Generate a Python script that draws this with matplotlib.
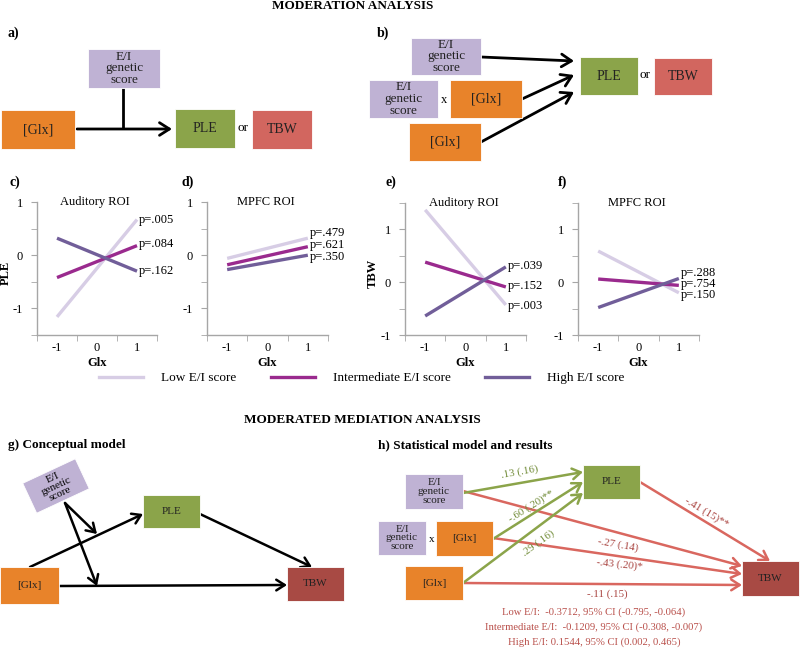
import matplotlib
matplotlib.use('Agg')
import matplotlib.pyplot as plt
from matplotlib.patches import Rectangle, Polygon
from matplotlib.lines import Line2D
import numpy as np

plt.rcParams['font.family'] = ['Liberation Serif', 'DejaVu Serif']

# ---------------- data ----------------
glx_ticks = [-1, 0, 1]
glx_ends = [-1, 1]
series_names = ['Low E/I score', 'Intermediate E/I score', 'High E/I score']
series_colors = ['#d7cde5', '#9a2a8e', '#715e99']

# panel c: Auditory ROI, PLE  (values at Glx = -1 and Glx = 1)
c_low = [-1.16, 0.67]
c_int = [-0.42, 0.18]
c_high = [0.32, -0.30]
c_p = ['p=.005', 'p=.084', 'p=.162']
# panel d: MPFC ROI, PLE
d_low = [-0.06, 0.32]
d_int = [-0.18, 0.16]
d_high = [-0.27, 0.00]
d_p = ['p=.479', 'p=.621', 'p=.350']
# panel e: Auditory ROI, TBW
e_low = [1.37, -0.43]
e_int = [0.38, -0.09]
e_high = [-0.64, 0.29]
e_p = ['p=.003', 'p=.152', 'p=.039']
# panel f: MPFC ROI, TBW
f_low = [0.59, -0.20]
f_int = [0.06, -0.06]
f_high = [-0.48, 0.07]
f_p = ['p=.150', 'p=.754', 'p=.288']

# path coefficients (panel h)
h_green_labels = ['.13 (.16)', '-.60 (.20)**', '.29 (.16)']
h_red_labels = ['-.41 (15)**', '-.27 (.14)', '-.43 (.20)*', '-.11 (.15)']
h_results = ['Low E/I:  -0.3712, 95% CI (-0.795, -0.064)',
             'Intermediate E/I:  -0.1209, 95% CI (-0.308, -0.007)',
             'High E/I: 0.1544, 95% CI (0.002, 0.465)']

# ---------------- figure ----------------
W, H = 800, 648
fig = plt.figure(figsize=(8, 6.48), dpi=100)
ov = fig.add_axes([0, 0, 1, 1])
ov.set_xlim(0, W)
ov.set_ylim(H, 0)
ov.axis('off')

PURPLE = '#bfb2d4'
ORANGE = '#e8832a'
GREEN = '#8ba44a'
RED = '#d2665f'
DRED = '#a84a44'
LGREEN = '#8ba44a'
LRED = '#d9675f'


def box(x0, y0, x1, y1, color, text, fs=10, tc='#222222'):
    ov.add_patch(Rectangle((x0, y0), x1 - x0, y1 - y0, facecolor=color,
                           edgecolor='white', lw=0.6, zorder=2))
    if text:
        ov.text((x0 + x1) / 2, (y0 + y1) / 2, text, ha='center', va='center',
                fontsize=fs, color=tc, zorder=3, linespacing=0.95)


def arrow(p0, p1, color='black', lw=2.0, head=True, ms=13):
    if head:
        ov.annotate('', xy=p1, xytext=p0,
                    arrowprops=dict(arrowstyle='->,head_length=0.55,head_width=0.35',
                                    color=color, lw=lw, shrinkA=0, shrinkB=0,
                                    mutation_scale=ms), zorder=1)
    else:
        ov.plot([p0[0], p1[0]], [p0[1], p1[1]], color=color, lw=lw, zorder=1,
                solid_capstyle='butt')


# titles
ov.text(353, 6, 'MODERATION ANALYSIS', ha='center', va='center', fontsize=9.5,
        fontweight='bold')
ov.text(362, 420, 'MODERATED MEDIATION ANALYSIS', ha='center', va='center',
        fontsize=9.5, fontweight='bold')

# ---- panel a ----
ov.text(8, 33, 'a)', fontsize=10, fontweight='bold', va='center')
box(88, 49, 160, 88, PURPLE, 'E/I\ngenetic\nscore', fs=9.5)
box(1, 110, 75, 149, ORANGE, '[Glx]', fs=10)
box(175, 109, 235, 148, GREEN, 'PLE', fs=10)
ov.text(243, 128, 'or', fontsize=9.5, ha='center', va='center')
box(252, 110, 312, 149, RED, 'TBW', fs=10)
arrow((77, 129), (172, 129))
arrow((123, 88), (123, 129), head=False)

# ---- panel b ----
ov.text(377, 33, 'b)', fontsize=10, fontweight='bold', va='center')
box(411, 38, 481, 75, PURPLE, 'E/I\ngenetic\nscore', fs=9.5)
box(369, 80, 438, 118, PURPLE, 'E/I\ngenetic\nscore', fs=9.5)
ov.text(444, 100, 'x', fontsize=9, ha='center', va='center')
box(450, 80, 522, 118, ORANGE, '[Glx]', fs=10)
box(409, 123, 481, 161, ORANGE, '[Glx]', fs=10)
box(580, 57, 638, 95, GREEN, 'PLE', fs=10)
ov.text(645, 75, 'or', fontsize=9.5, ha='center', va='center')
box(654, 58, 712, 95, RED, 'TBW', fs=10)
arrow((481, 57), (574, 61))
arrow((522, 99), (574, 75))
arrow((481, 142), (574, 92))

# ---- line plots c-f ----
panels = [
    dict(rect=(37, 157, 202, 335), ylim=(-1.5, 1), title='Auditory ROI',
         vals=[c_low, c_int, c_high], p=c_p, py=[0.67, 0.21, -0.29],
         label='c)', lx=10, ylabel='PLE', ylx=-0.21),
    dict(rect=(207, 328, 202, 335), ylim=(-1.5, 1), title='MPFC ROI',
         vals=[d_low, d_int, d_high], p=d_p, py=[0.42, 0.19, -0.04],
         label='d)', lx=181, ylabel=None, ylx=0),
    dict(rect=(405, 526, 203, 335), ylim=(-1, 1.5), title='Auditory ROI',
         vals=[e_low, e_int, e_high], p=e_p, py=[-0.45, -0.07, 0.31],
         label='e)', lx=385, ylabel='TBW', ylx=-0.22),
    dict(rect=(578, 699, 203, 335), ylim=(-1, 1.5), title='MPFC ROI',
         vals=[f_low, f_int, f_high], p=f_p, py=[-0.24, -0.04, 0.17],
         label='f)', lx=558, ylabel=None, ylx=0),
]
GRAY = '#a6a6a6'
for pn in panels:
    x0, x1, y0, y1 = pn['rect']
    ax = fig.add_axes([x0 / W, (H - y1) / H, (x1 - x0) / W, (y1 - y0) / H])
    ax.patch.set_alpha(0)
    ax.set_xlim(-1.5, 1.5)
    ax.set_ylim(*pn['ylim'])
    for s in ['top', 'right']:
        ax.spines[s].set_visible(False)
    for s in ['left', 'bottom']:
        ax.spines[s].set_color(GRAY)
        ax.spines[s].set_linewidth(1.0)
    ax.set_xticks(glx_ticks)
    ax.set_xticklabels([str(v) for v in glx_ticks])
    ax.set_xticks([-1.5, -0.5, 0.5, 1.5], minor=True)
    ax.tick_params(axis='x', which='major', length=0, labelsize=9, pad=5)
    ax.tick_params(axis='x', which='minor', length=4, color=GRAY, direction='out')
    ax.set_yticks([-1, 0, 1])
    ax.set_yticklabels(['-1', '0', '1'])
    lo, hi = pn['ylim']
    ax.set_yticks([v for v in [-1.5, -0.5, 0.5, 1.5] if lo <= v <= hi], minor=True)
    ax.tick_params(axis='y', which='both', length=4, color=GRAY, direction='out',
                   labelsize=9, pad=6)
    for vals, col in zip(pn['vals'], series_colors):
        ax.plot(glx_ends, vals, color=col, lw=2.4, solid_capstyle='butt')
    for txt, yy in zip(pn['p'], pn['py']):
        ax.text(1.04, yy, txt, ha='left', va='center', fontsize=9, clip_on=False)
    ax.text(-0.05, 1.0 if lo < -1 else 1.5, pn['title'], ha='center', va='center',
            fontsize=9, transform=ax.transData)
    ax.set_xlabel('Glx', fontsize=9, fontweight='bold')
    ax.xaxis.set_label_coords(0.5, -0.165)
    if pn['ylabel']:
        ax.set_ylabel(pn['ylabel'], fontsize=9, fontweight='bold')
        ax.yaxis.set_label_coords(pn['ylx'], 0.47)
    ov.text(pn['lx'], 182, pn['label'], fontsize=10, fontweight='bold', va='center')

handles = [Line2D([], [], color=c, lw=2.4) for c in series_colors]
fig.legend(handles, series_names, loc='center', bbox_to_anchor=(362 / W, (H - 378) / H),
           ncol=3, frameon=False, fontsize=9.5, handlelength=3.3, handletextpad=1.4,
           columnspacing=2.6)

# ---- panel g ----
ov.text(8, 445, 'g) Conceptual model', fontsize=9.5, fontweight='bold', va='center')
cx, cy, bw, bh, ang = 56, 486, 58, 33, 25
t = np.deg2rad(ang)
u = np.array([np.cos(t), -np.sin(t)])
v = np.array([np.sin(t), np.cos(t)])
c = np.array([cx, cy])
corners = [c - u * bw / 2 - v * bh / 2, c + u * bw / 2 - v * bh / 2,
           c + u * bw / 2 + v * bh / 2, c - u * bw / 2 + v * bh / 2]
ov.add_patch(Polygon(corners, closed=True, facecolor=PURPLE, edgecolor='white',
                     lw=0.6, zorder=2))
ov.text(cx, cy, 'E/I\ngenetic\nscore', rotation=ang, ha='center', va='center',
        fontsize=8, rotation_mode='anchor', linespacing=0.95, zorder=3)
box(143, 495, 200, 528, GREEN, 'PLE', fs=8)
box(0, 567, 59, 604, ORANGE, '[Glx]', fs=8)
box(287, 567, 344, 601, DRED, 'TBW', fs=8)
arrow((30, 567), (143, 514), lw=1.8, ms=11)
arrow((65, 503), (97, 534), lw=1.8, ms=11)
arrow((65, 503), (97, 586), lw=1.8, ms=11)
arrow((59, 586), (287, 585), lw=1.8, ms=11)
arrow((200, 514), (312, 567), lw=1.8, ms=11)

# ---- panel h ----
ov.text(378, 445, 'h) Statistical model and results', fontsize=9.5,
        fontweight='bold', va='center')
box(405, 474, 463, 509, PURPLE, 'E/I\ngenetic\nscore', fs=8)
box(378, 521, 426, 555, PURPLE, 'E/I\ngenetic\nscore', fs=8)
ov.text(432, 539, 'x', fontsize=8, ha='center', va='center')
box(436, 521, 493, 556, ORANGE, '[Glx]', fs=8)
box(405, 566, 463, 600, ORANGE, '[Glx]', fs=8)
box(583, 465, 640, 499, GREEN, 'PLE', fs=8)
box(742, 561, 799, 596, DRED, 'TBW', fs=8)

arrow((463, 491), (742, 566), color=LRED, lw=1.8, ms=11)
arrow((493, 538), (742, 574), color=LRED, lw=1.8, ms=11)
arrow((463, 583), (742, 585), color=LRED, lw=1.8, ms=11)
arrow((640, 482), (770, 561), color=LRED, lw=1.8, ms=11)
arrow((463, 493), (583, 472), color=LGREEN, lw=1.8, ms=11)
arrow((493, 539), (583, 482), color=LGREEN, lw=1.8, ms=11)
arrow((463, 583), (583, 493), color=LGREEN, lw=1.8, ms=11)

GTXT = '#6f8a35'
RTXT = '#a8413d'
for txt, (x, y), rot in zip(h_green_labels, [(520, 472), (531, 506), (538, 543)],
                            [10, 32, 36]):
    ov.text(x, y, txt, color=GTXT, fontsize=7.8, rotation=rot, ha='center',
            va='center', rotation_mode='anchor')
for txt, (x, y), rot in zip(h_red_labels, [(707, 513), (618, 545), (620, 565), (607, 594)],
                            [-31, -10, -6, 0]):
    ov.text(x, y, txt, color=RTXT, fontsize=7.8, rotation=rot, ha='center',
            va='center', rotation_mode='anchor')
for i, txt in enumerate(h_results):
    ov.text(594, 612 + 15 * i, txt, color='#b9504b', fontsize=7.7, ha='center',
            va='center')

fig.savefig('out.png', dpi=100)
